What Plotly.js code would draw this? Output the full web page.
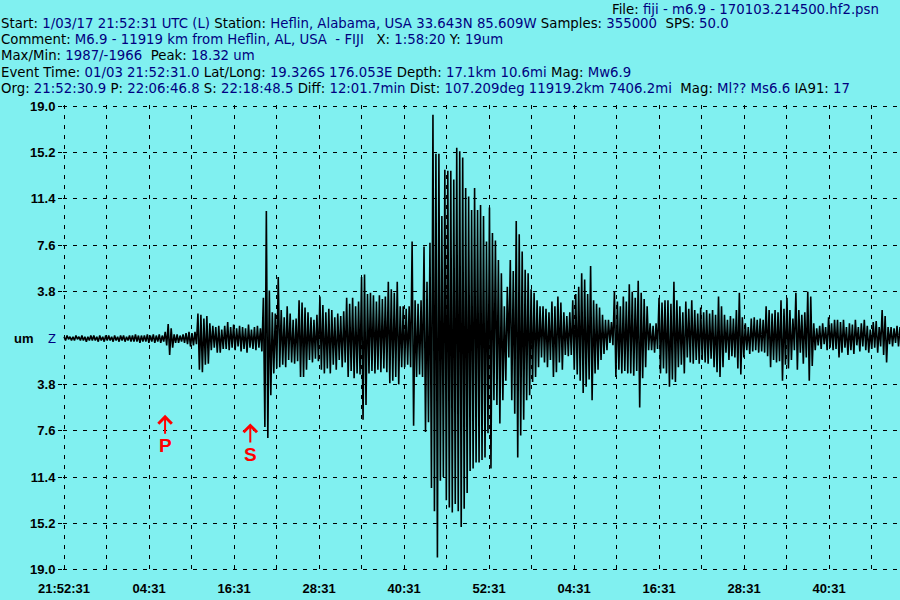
<!DOCTYPE html>
<html><head><meta charset="utf-8">
<script src="https://cdn.plot.ly/plotly-3.0.1.min.js"></script>
<style>html,body{margin:0;padding:0;background:#80F0F0;} #chart{width:900px;height:600px;}</style>
</head><body><div id="chart"></div>
<script>
// ---- data (minutes from record start 21:52:31, amplitudes in um) ----
const sampleStepMin = 0.42;           // one envelope column every 0.42 min
const recordLengthMin = 118.02;       // X: 1:58:20 shown
const upper = [
0.1,0.2,0.1,0.1,0.2,0.1,0.2,0.1,0.1,0.2, 0.2,0.1,0.2,0.1,0.2,0.2,0.1,0.2,0.1,0.2,
0.2,0.1,0.2,0.2,0.3,0.2,0.2,0.2,0.3,0.2, 0.3,0.2,0.3,0.2,0.5,1.15,0.8,0.3,0.3,0.2,
0.3,0.4,0.5,0.4,0.5,2.0,1.9,1.6,1.8,1.2, 1.0,0.9,1.0,0.7,1.0,1.3,0.9,1.1,0.8,1.0,
0.9,0.8,1.1,0.7,0.9,1.0,0.8,3.3,10.4,3.9, 2.1,2.0,5.0,2.3,1.7,2.6,2.0,1.5,1.6,3.1,
2.9,2.5,2.1,1.7,1.5,1.9,3.4,2.7,2.1,2.4, 2.3,1.7,2.0,1.8,2.2,3.3,2.8,3.3,2.6,3.0,
5.0,5.2,3.6,3.7,3.5,3.0,3.5,3.2,3.4,4.6, 4.0,3.7,4.6,2.6,2.6,2.4,2.6,7.9,3.1,2.8,
3.1,7.5,4.6,7.8,18.3,15.1,15.1,10.0,13.8,13.7, 13.7,13.0,15.6,15.3,14.8,12.3,11.6,10.5,12.3,10.5,
10.9,10.0,7.9,10.7,8.6,8.0,6.4,5.3,2.6,4.2, 6.4,5.5,9.6,8.5,7.1,5.6,5.3,4.0,3.7,3.1,
2.6,2.6,2.4,2.1,3.0,2.6,3.4,2.9,2.1,1.8, 2.1,3.1,3.6,4.2,5.3,4.8,3.6,5.9,3.1,2.8,
2.5,1.9,1.5,1.5,1.3,3.8,3.0,2.6,3.4,3.0, 4.4,3.8,3.3,4.7,3.7,3.2,2.6,1.2,1.0,1.2,
3.3,2.9,3.1,3.1,2.8,4.6,3.1,2.6,2.1,3.0, 2.4,3.1,2.3,2.0,2.5,2.1,2.3,2.0,2.3,1.9,
3.4,2.6,1.9,1.5,1.8,1.6,2.3,3.7,1.7,1.2, 0.9,1.6,1.7,1.5,1.6,1.5,2.6,2.3,2.0,2.3,
2.1,3.1,2.4,3.3,2.3,1.6,3.7,2.3,1.9,2.1, 3.8,3.4,1.2,0.8,1.0,1.2,0.9,1.7,1.2,1.5,
1.5,1.3,1.5,0.9,1.2,1.1,1.5,0.9,1.2,1.5, 1.0,0.7,1.3,1.4,0.9,2.3,1.8,0.9,0.9,0.8,
1.0,0.9
];
const lower = [
-0.2,-0.1,-0.2,-0.2,-0.1,-0.2,-0.2,-0.3,-0.2,-0.2, -0.2,-0.3,-0.2,-0.3,-0.2,-0.2,-0.3,-0.2,-0.3,-0.2,
-0.3,-0.2,-0.3,-0.3,-0.3,-0.4,-0.3,-0.3,-0.4,-0.3, -0.4,-0.3,-0.4,-0.3,-0.6,-1.4,-0.8,-0.4,-0.4,-0.3,
-0.4,-0.5,-0.7,-0.6,-0.5,-2.6,-2.8,-2.2,-2.1,-1.0, -0.8,-1.2,-1.2,-0.9,-0.9,-1.0,-0.8,-1.0,-0.7,-1.1,
-0.9,-1.2,-0.8,-0.9,-1.0,-0.8,-1.1,-7.3,-8.2,-4.7, -2.9,-2.5,-2.4,-2.2,-2.4,-1.8,-2.0,-2.1,-1.9,-3.2,
-3.2,-2.6,-1.8,-2.0,-1.7,-1.9,-2.6,-2.9,-2.5,-2.9, -2.2,-2.6,-1.8,-2.4,-2.0,-3.2,-2.7,-3.3,-2.9,-3.0,
-6.7,-5.5,-2.9,-2.7,-2.9,-2.6,-2.8,-2.5,-2.8,-3.7, -3.5,-3.2,-3.8,-2.4,-2.4,-2.2,-2.4,-7.2,-3.2,-3.0,
-3.2,-7.7,-6.9,-12.3,-14.2,-18.0,-11.7,-11.4,-13.3,-13.9, -14.3,-13.6,-14.2,-15.5,-14.0,-12.7,-10.9,-10.7,-10.2,-10.2,
-10.0,-9.8,-7.8,-10.7,-5.1,-5.5,-7.0,-5.1,-3.5,-1.6, -5.1,-6.2,-9.8,-8.0,-6.7,-5.1,-4.7,-3.6,-3.2,-2.4,
-1.6,-2.0,-2.4,-1.8,-3.2,-2.8,-2.0,-2.6,-1.4,-1.5, -1.4,-2.6,-3.0,-3.5,-4.5,-4.0,-3.4,-5.1,-2.9,-2.6,
-1.8,-1.3,-1.0,-0.4,-0.6,-3.2,-2.6,-2.9,-2.7,-2.9, -2.9,-3.1,-2.7,-5.7,-3.3,-2.4,-1.0,-1.0,-1.2,-0.9,
-2.9,-2.5,-2.9,-4.0,-3.4,-3.6,-2.4,-2.2,-2.9,-1.6, -2.0,-2.1,-1.8,-2.1,-1.8,-2.0,-2.1,-1.7,-2.4,-2.8,
-3.2,-2.4,-1.2,-1.8,-1.5,-1.6,-2.5,-3.0,-1.6,-1.0, -1.3,-1.1,-1.0,-1.2,-1.1,-1.2,-1.5,-2.4,-1.8,-2.0,
-1.9,-3.5,-2.2,-2.5,-1.8,-1.0,-2.6,-1.2,-2.1,-1.6, -3.5,-2.3,-1.0,-0.6,-0.9,-0.5,-1.0,-0.8,-1.0,-0.9,
-1.6,-1.2,-0.8,-1.4,-1.0,-1.3,-0.6,-1.1,-0.7,-1.0, -1.2,-0.9,-0.8,-1.2,-0.7,-1.4,-2.0,-0.5,-0.7,-0.4,
-0.7,-0.6
];
const xTickVals = [0,6,12,18,24,30,36,42,48,54,60,66,72,78,84,90,96,102,108,114];
const xTickText = ["21:52:31","","04:31","","16:31","","28:31","","40:31","","52:31","","04:31","","16:31","","28:31","","40:31",""];
const yTickVals = [-19,-15.2,-11.4,-7.6,-3.8,3.8,7.6,11.4,15.2,19];
const yTickText = ["19.0","15.2","11.4","7.6","3.8","3.8","7.6","11.4","15.2","19.0"];
const pArrivalMin = 14.26;   // 22:06:46.8
const sArrivalMin = 26.29;   // 22:18:48.5

const headerFile = 'File: <span style="color:#000080">fiji - m6.9 - 170103.214500.hf2.psn</span>';
const headerLines = [
 'Start: <span style="color:#000080">1/03/17 21:52:31 UTC (L)</span> Station: <span style="color:#000080">Heflin, Alabama, USA 33.643N 85.609W</span> Samples: <span style="color:#000080">355000</span>&nbsp; SPS: <span style="color:#000080">50.0</span>',
 'Comment: <span style="color:#000080">M6.9 - 11919 km from Heflin, AL, USA&nbsp; - FIJI</span>&nbsp;&nbsp; X: <span style="color:#000080">1:58:20</span> Y: <span style="color:#000080">19um</span>',
 'Max/Min: <span style="color:#000080">1987/-1966</span>&nbsp; Peak: <span style="color:#000080">18.32 um</span>',
 'Event Time: <span style="color:#000080">01/03 21:52:31.0</span> Lat/Long: <span style="color:#000080">19.326S 176.053E</span> Depth: <span style="color:#000080">17.1km 10.6mi</span> Mag: <span style="color:#000080">Mw6.9</span>',
 'Org: <span style="color:#000080">21:52:30.9</span> P: <span style="color:#000080">22:06:46.8</span> S: <span style="color:#000080">22:18:48.5</span> Diff: <span style="color:#000080">12:01.7min</span> Dist: <span style="color:#000080">107.209deg 11919.2km 7406.2mi</span>&nbsp; Mag: <span style="color:#000080">Ml?? Ms6.6</span> IA91: <span style="color:#000080">17</span>'
];

// ---- build zigzag trace from envelope ----
const yz = [];
for (let i = 0; i < upper.length; i++) { yz.push(upper[i]); yz.push(lower[i]); }

const BG = '#80F0F0';
const ML = 63, MR = 0, MT = 105, MB = 29;
const L = ML, R = 900 - MR, T = MT, B = 600 - MB;
const px = x => (x - L) / (R - L);
const py = y => (B - y) / (B - T);
const FONT = '"Liberation Sans", Arial, sans-serif';
const HFONT = '"DejaVu Sans", Verdana, sans-serif';

const annotations = [];
annotations.push({xref:'paper', yref:'paper', x:px(881), y:py(9), xanchor:'right', yanchor:'middle',
  text: headerFile, showarrow:false, font:{family:HFONT, size:13.3, color:'#000'}});
const lineY = [24, 40, 56, 73, 89];
headerLines.forEach((t, k) => annotations.push({xref:'paper', yref:'paper', x:px(-1), y:py(lineY[k]),
  xanchor:'left', yanchor:'middle', text:t, showarrow:false, font:{family:HFONT, size:13.3, color:'#000'}}));
annotations.push({xref:'paper', yref:'paper', x:px(58), y:py(338), xanchor:'right', yanchor:'middle',
  text:'<b>um</b>&nbsp;&nbsp;&nbsp; <span style="color:#000080">Z</span>', showarrow:false,
  font:{family:FONT, size:13, color:'#000'}});
[[pArrivalMin, -6.3, 'P'], [sArrivalMin, -7.0, 'S']].forEach(m => annotations.push({
  x:m[0], y:m[1], xref:'x', yref:'y', text:'<b>'+m[2]+'</b>', showarrow:true, ax:0, ay:31,
  arrowhead:4, arrowsize:1.3, arrowwidth:2, arrowcolor:'#FF0000',
  font:{family:FONT, size:19, color:'#FF0000'}}));

const trace = {type:'scatter', mode:'lines', x0:0, dx:sampleStepMin/2, y:yz,
  line:{color:'#000', width:1.6}, hoverinfo:'skip'};

const layout = {
  width:900, height:600, paper_bgcolor:BG, plot_bgcolor:BG, showlegend:false,
  margin:{l:ML, r:MR, t:MT, b:MB, pad:0},
  font:{family:FONT, size:13, color:'#000'},
  xaxis:{range:[-0.15, recordLengthMin], tickmode:'array', tickvals:xTickVals, ticktext:xTickText,
    showgrid:true, gridcolor:'#000', gridwidth:1, griddash:'4px,6px', zeroline:false, showline:false,
    ticks:'', ticklabelstandoff:8, tickfont:{family:FONT, size:13, weight:'bold', color:'#000'}, fixedrange:true},
  yaxis:{range:[-19.1, 19.1], tickmode:'array', tickvals:yTickVals, ticktext:yTickText,
    showgrid:true, gridcolor:'#000', gridwidth:1, griddash:'4px,6px', zeroline:false, showline:false,
    ticks:'outside', ticklen:4, tickcolor:'#000', tickwidth:1,
    tickfont:{family:FONT, size:13, weight:'bold', color:'#000'}, fixedrange:true},
  annotations: annotations
};
Plotly.newPlot('chart', [trace], layout, {staticPlot:true, displayModeBar:false});
</script></body></html>
